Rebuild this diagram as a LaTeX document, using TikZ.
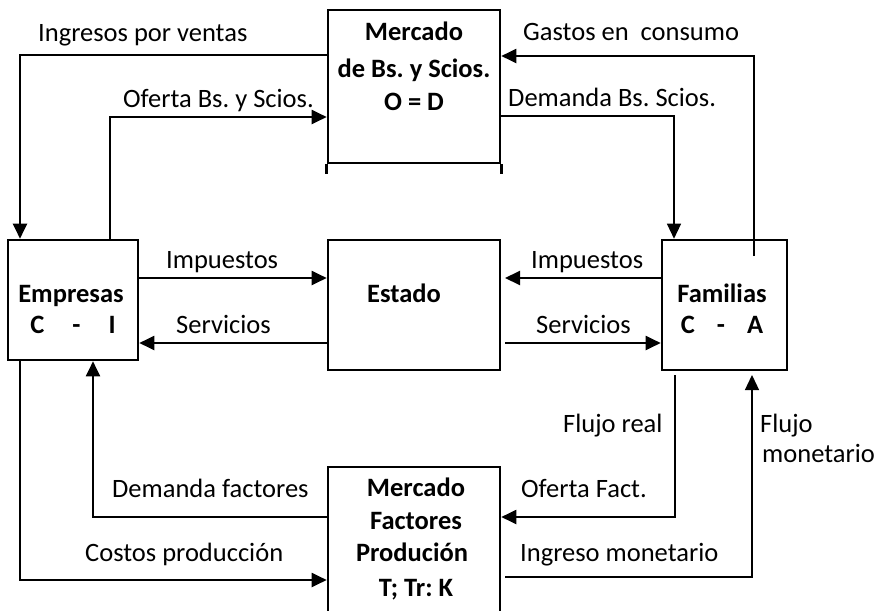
\documentclass[tikz,border=0pt]{standalone}
\usepackage{fontspec}
\setmainfont{Carlito}
\usetikzlibrary{arrows.meta}
\frenchspacing
\begin{document}
\begin{tikzpicture}[x=1pt,y=-1pt,
  box/.style={draw,line width=2.6pt,inner sep=0pt},
  arr/.style={line width=2pt,-{Triangle[length=15pt,width=14pt]}},
  thinarr/.style={line width=1.3pt,-{Triangle[length=15pt,width=14pt]}},
  lbl/.style={inner sep=0pt,anchor=base west,font=\fontsize{26.5}{30}\selectfont},
  blbl/.style={inner sep=0pt,anchor=base,font=\fontsize{26.5}{30}\selectfont\bfseries}]
\useasboundingbox (0,0) rectangle (879,611);
% boxes
\node[box,minimum width=172pt,minimum height=153pt] (merc) at (414,86.5) {};
\node[box,minimum width=130pt,minimum height=120pt] (emp) at (73,300) {};
\node[box,minimum width=172pt,minimum height=130pt] (est) at (414,305) {};
\node[box,minimum width=125pt,minimum height=130pt] (fam) at (724.5,305) {};
\node[box,minimum width=172pt,minimum height=150pt] (fac) at (414,542) {};
\draw[line width=2.6pt] (merc.south west) -- ++(0,10) (merc.south east) -- ++(0,10);
% box texts
\node[blbl] (t1) at (414,40) {Mercado};
\node[blbl] (t2) at (414,77) {de Bs. y Scios.};
\node[blbl] (t3) at (414,110) {O = D};
\node[blbl] (t4) at (71,302) {Empresas};
\node[blbl] (t5) at (73,333) {C\hspace{28pt}-\hspace{28pt}I};
\node[blbl] (t6) at (404,302) {Estado};
\node[blbl] (t7) at (722,302) {Familias};
\node[blbl] (t8) at (722,333) {C\hspace{22pt}-\hspace{22pt}A};
\node[blbl] (t9) at (416,496) {Mercado};
\node[blbl] (t10) at (416,529) {Factores};
\node[blbl] (t11) at (412,561) {Produción};
\node[blbl] (t12) at (416,596) {T; Tr: K};
% connector labels
\node[lbl] (l1) at (38,41) {Ingresos por ventas};
\node[lbl] (l2) at (123,107) {Oferta Bs. y Scios.};
\node[lbl] (l3) at (523,40) {Gastos en\ \ consumo};
\node[lbl] (l4) at (508,106) {Demanda Bs. Scios.};
\node[lbl] (l5) at (166,268) {Impuestos};
\node[lbl] (l6) at (176,333) {Servicios};
\node[lbl] (l7) at (531,268) {Impuestos};
\node[lbl] (l8) at (536,333) {Servicios};
\node[lbl] (l9) at (563,432) {Flujo real};
\node[lbl] (l10) at (760,432) {Flujo};
\node[lbl] (l11) at (762,462) {monetario};
\node[lbl] (l12) at (112,497) {Demanda factores};
\node[lbl] (l13) at (521,497) {Oferta Fact.};
\node[lbl] (l14) at (85,561) {Costos producción};
\node[lbl] (l15) at (520,561) {Ingreso monetario};
% coordinates
\coordinate (iv) at (20,55);
\coordinate (ob) at (110,117);
\coordinate (gc) at (754,56);
\coordinate (gs) at (754,256);
\coordinate (db) at (674,116);
\coordinate (im) at (0,278);
\coordinate (se) at (0,343);
\coordinate (imr) at (505,278);
\coordinate (ser) at (505,343);
\coordinate (cp) at (20,580);
\coordinate (df) at (93,517);
\coordinate (fr0) at (675,375);
\coordinate (fr) at (675,517);
\coordinate (im0) at (505,577);
\coordinate (fm) at (752,375);
% connectors
\draw[arr] (merc.west |- iv) -| (emp.north -| iv);
\draw[arr] (emp.north -| ob) |- (merc.west |- ob);
\draw[arr] (gs) |- (merc.east |- gc);
\draw[thinarr] (merc.east |- db) -| (fam.north -| db);
\draw[arr] (emp.east |- im) -- (est.west |- im);
\draw[arr] (est.west |- se) -- (emp.east |- se);
\draw[arr] (fam.west |- im) -- (imr);
\draw[arr] (ser) -- (fam.west |- ser);
\draw[arr] (emp.south -| cp) |- (fac.west |- cp);
\draw[arr] (fac.west |- df) -| (emp.south -| df);
\draw[arr] (fr0) |- (fac.east |- fr);
\draw[thinarr] (im0) -| (fm);
\end{tikzpicture}
\end{document}
